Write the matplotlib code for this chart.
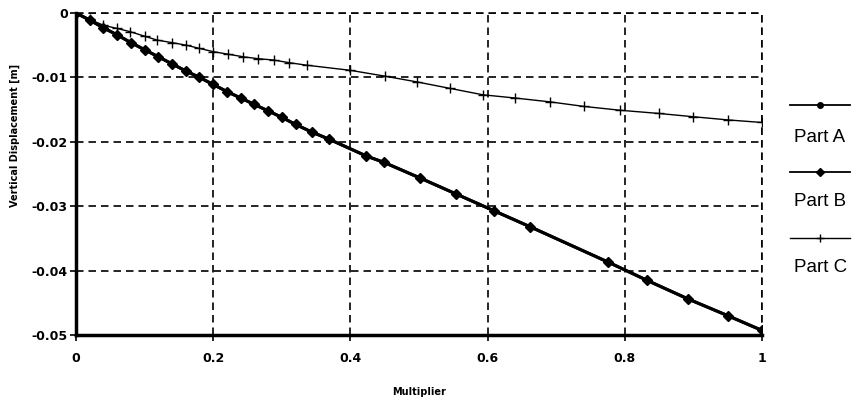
import matplotlib
matplotlib.use("Agg")
import matplotlib.pyplot as plt
from matplotlib.lines import Line2D

# values
multiplier_b = [0, 0.02, 0.04, 0.06, 0.08, 0.10, 0.12, 0.14, 0.16, 0.18, 0.20,
                0.22, 0.24, 0.26, 0.28, 0.30, 0.32, 0.344, 0.369, 0.423, 0.449,
                0.501, 0.554, 0.609, 0.662, 0.776, 0.832, 0.892, 0.950, 1.0]
disp_b = [0, -0.0011, -0.0023, -0.0034, -0.0046, -0.0057, -0.0068, -0.0079,
          -0.0090, -0.0100, -0.0111, -0.0122, -0.0132, -0.0142, -0.0152,
          -0.0162, -0.0173, -0.0185, -0.0196, -0.0222, -0.0232, -0.0256,
          -0.0281, -0.0307, -0.0332, -0.0387, -0.0415, -0.0444, -0.0470, -0.0493]

# Part A sits under Part B in the picture
multiplier_a = multiplier_b
disp_a = [0, -0.0011, -0.0023, -0.0034, -0.0046, -0.0057, -0.0068, -0.0079,
          -0.0090, -0.0100, -0.0111, -0.0122, -0.0132, -0.0142, -0.0152,
          -0.0162, -0.0173, -0.0185, -0.0196, -0.0222, -0.0232, -0.0256,
          -0.0281, -0.0307, -0.0332, -0.0387, -0.0415, -0.0444, -0.0470, -0.0493]

multiplier_c = [0, 0.02, 0.04, 0.06, 0.079, 0.10, 0.118, 0.14, 0.161, 0.18, 0.20,
                0.222, 0.244, 0.266, 0.288, 0.31, 0.336, 0.40, 0.45, 0.497, 0.545,
                0.593, 0.64, 0.691, 0.74, 0.793, 0.85, 0.899, 0.95, 1.0]
disp_c = [0, -0.0010, -0.0019, -0.0024, -0.0029, -0.0036, -0.0042, -0.0046,
          -0.0050, -0.0055, -0.0060, -0.0064, -0.0068, -0.0071, -0.0073,
          -0.0077, -0.0081, -0.0089, -0.0098, -0.0107, -0.0117, -0.0127,
          -0.0132, -0.0138, -0.0145, -0.0151, -0.0156, -0.0161, -0.0166, -0.0170]

x_ticks = [0, 0.2, 0.4, 0.6, 0.8, 1]
x_tick_labels = ["0", "0.2", "0.4", "0.6", "0.8", "1"]
y_ticks = [0, -0.01, -0.02, -0.03, -0.04, -0.05]
y_tick_labels = ["0", "-0.01", "-0.02", "-0.03", "-0.04", "-0.05"]
series_names = ["Part A", "Part B", "Part C"]


def main() -> None:
    fig = plt.figure(figsize=(8.56, 4.07), dpi=100)
    ax = fig.add_axes([0.0888, 0.177, 0.8014, 0.791])

    ax.plot(multiplier_a, disp_a, color="black", lw=2.2, marker="o", ms=3)
    ax.plot(multiplier_b, disp_b, color="black", lw=2.2, marker="D", ms=5.5)
    ax.plot(multiplier_c, disp_c, color="black", lw=1.0, marker="+", ms=7, mew=1.0)

    ax.set_xlim(0, 1)
    ax.set_ylim(-0.05, 0)
    ax.set_xticks(x_ticks)
    ax.set_xticklabels(x_tick_labels)
    ax.set_yticks(y_ticks)
    ax.set_yticklabels(y_tick_labels)
    ax.tick_params(axis="both", labelsize=9, length=4, width=1.2, colors="black")
    ax.tick_params(axis="x", pad=8)
    ax.tick_params(axis="y", pad=2)
    for lab in ax.get_xticklabels() + ax.get_yticklabels():
        lab.set_fontweight("bold")

    ax.grid(True, color="black", linestyle=(0, (4.5, 3)), linewidth=1.2)
    ax.axhline(0, color="black", linestyle=(0, (4.5, 3)), linewidth=1.2, clip_on=False)
    ax.axvline(1, color="black", linestyle=(0, (4.5, 3)), linewidth=1.2, clip_on=False)
    for side in ("top", "right"):
        ax.spines[side].set_visible(False)
    for side in ("left", "bottom"):
        ax.spines[side].set_linewidth(2.5)

    fig.text(419 / 856, 1 - 392 / 407, "Multiplier", ha="center", va="center",
             fontsize=7, fontweight="bold")
    fig.text(15 / 856, 1 - 135 / 407, "Vertical Displacement [m]", ha="center",
             va="center", rotation=90, fontsize=7, fontweight="bold")

    # legend: line sample above each name
    handle_y = [105, 172, 238]
    label_y = [137, 202, 267]
    markers = [("o", 4, 1.3), ("D", 4, 1.3), ("+", 6, 1.0)]
    for name, hy, ly, (mk, ms, lw) in zip(series_names, handle_y, label_y, markers):
        yf = 1 - hy / 407
        fig.add_artist(Line2D([790 / 856, 850 / 856], [yf, yf], color="black", lw=lw))
        fig.add_artist(Line2D([820 / 856], [yf], color="black", marker=mk, ms=ms, lw=0))
        fig.text(794 / 856, 1 - ly / 407, name, ha="left", va="center", fontsize=13.5,
                 family="Liberation Sans")

    fig.savefig("out.png", dpi=100)
    plt.close(fig)


if __name__ == "__main__":
    main()
